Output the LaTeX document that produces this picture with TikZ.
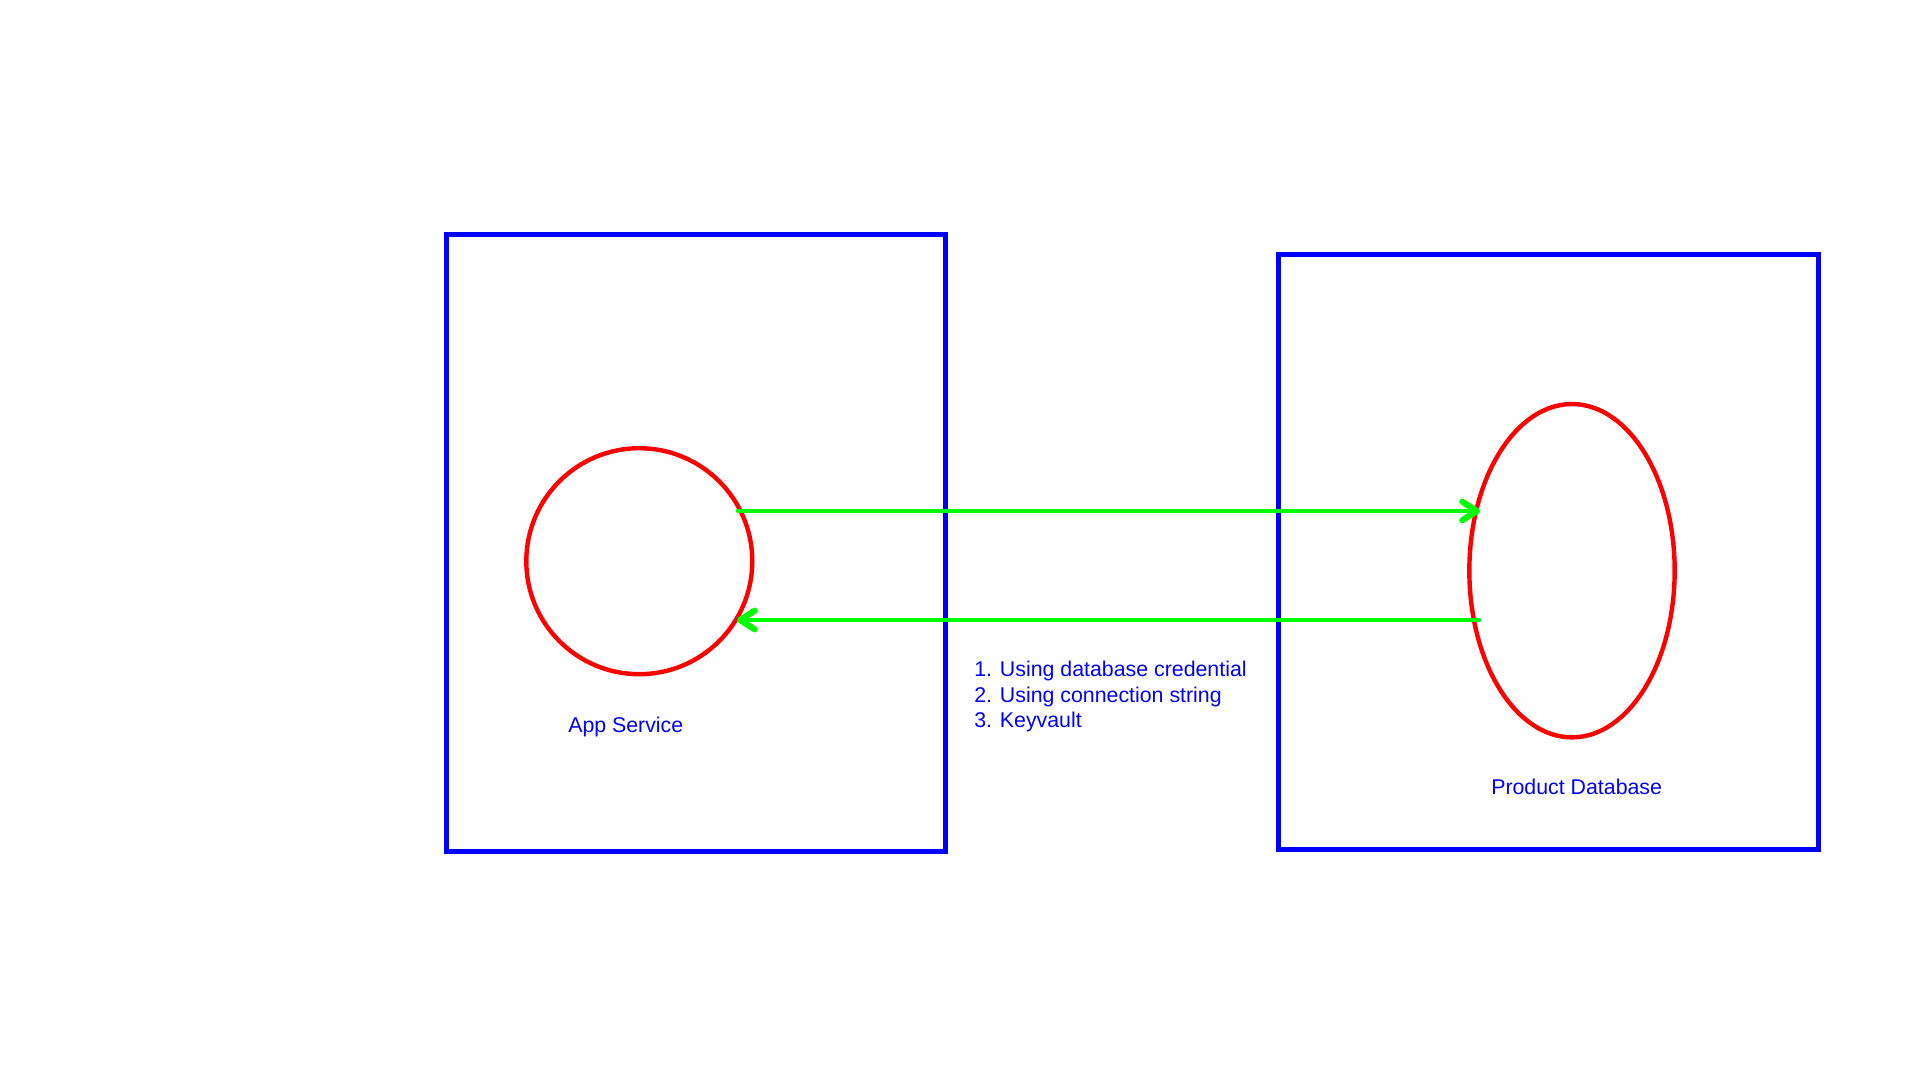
\documentclass[tikz,border=0pt]{standalone}
\usepackage{fontspec}
\setmainfont{Liberation Sans}
\usetikzlibrary{arrows.meta,shapes.geometric}
\definecolor{pblue}{RGB}{0,0,255}
\definecolor{pred}{RGB}{255,0,0}
\definecolor{pgreen}{RGB}{0,255,0}
\tikzset{
  boxframe/.style={draw=pblue, line width=3.75pt},
  redshape/.style={draw=pred, line width=3.3pt, inner sep=0pt, outer sep=0pt},
  arr/.style={draw=pgreen, line width=3.4pt, line cap=round,
    -{Straight Barb[length=11pt, width=14pt, line width=4.6pt, line cap=round, line join=round]}},
  lbl/.style={text=pblue, font=\fontsize{16}{19}\selectfont, inner sep=0pt, anchor=base west}
}
\begin{document}
\begin{tikzpicture}[x=0.75pt,y=-0.75pt]
\useasboundingbox (0,0) rectangle (1920,1080);
\fill[white] (0,0) rectangle (1920,1080);
% boxes
\draw[boxframe] (446.5,234.5) rectangle (945,851.5);
\draw[boxframe] (1278.5,255) rectangle (1818.5,849.5);
% shapes
\node[redshape, circle, minimum size=169.5pt] (app) at (639.3,561.2) {};
\node[redshape, ellipse, minimum width=154pt, minimum height=250pt] (db) at (1572,570.7) {};
% arrow end points
\coordinate (a1s) at (738,511);
\coordinate (a1e) at (1480,511);
\coordinate (a2s) at (1479,620);
\coordinate (a2e) at (737,620);
\draw[arr] (a1s) -- (a1e);
\draw[arr] (a2s) -- (a2e);
% labels
\node[lbl] (l1) at (974,676.5) {1. Using database credential};
\node[lbl] (l2) at (974,702) {2. Using connection string};
\node[lbl] (l3) at (974,727.5) {3. Keyvault};
\node[lbl] (applbl) at (568,732) {App Service};
\node[lbl] (dblbl) at (1491,794) {Product Database};
\end{tikzpicture}
\end{document}
